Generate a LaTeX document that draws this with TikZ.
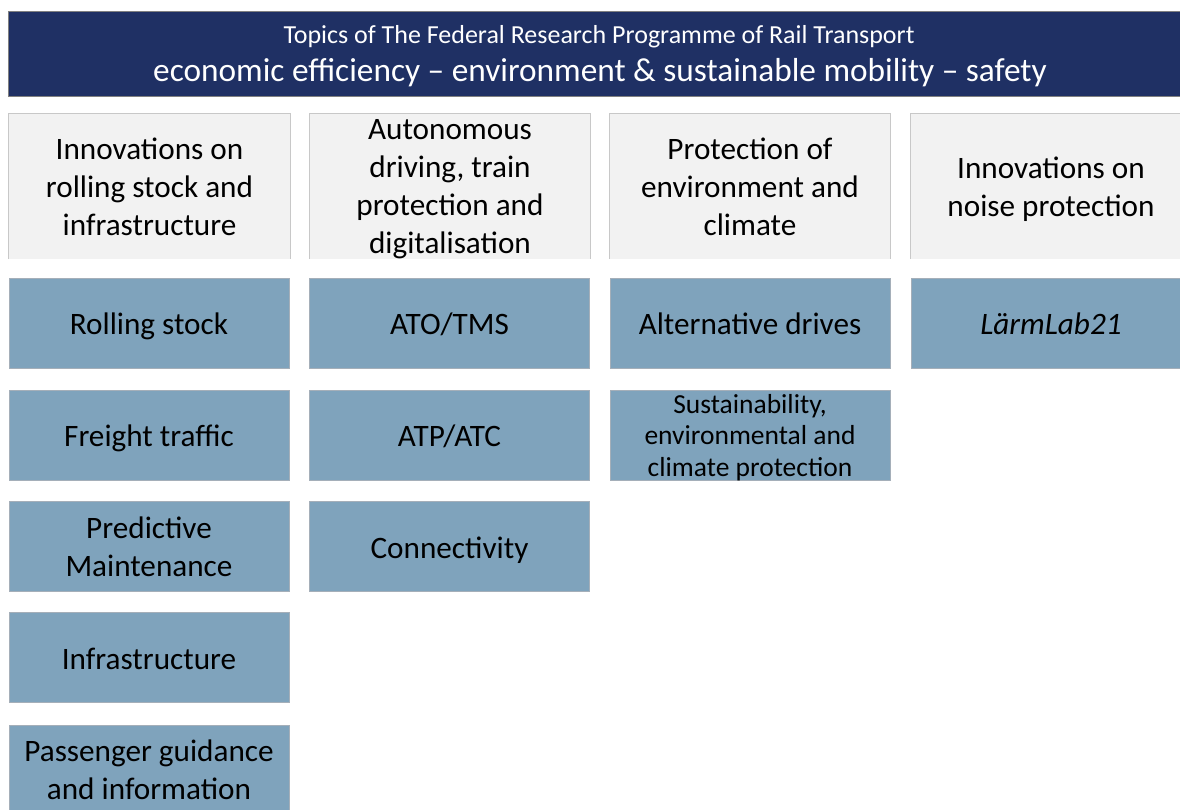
\documentclass[tikz,border=0pt]{standalone}
\usepackage{fontspec}
\setmainfont{Carlito}
\definecolor{navy}{RGB}{31,48,100}
\definecolor{topicgray}{RGB}{242,242,242}
\definecolor{topicline}{RGB}{200,200,200}
\definecolor{itemblue}{RGB}{127,163,188}
\definecolor{itemline}{RGB}{165,175,185}
\newcommand{\nodepth}[1]{\raisebox{0pt}[\height][0pt]{#1}}
\begin{document}
\begin{tikzpicture}[x=1pt,y=-1pt,
  hdr/.style={fill=navy,draw=gray,line width=0.8pt,minimum width=1182pt,minimum height=85pt,inner sep=0pt},
  hdrtxt/.style={text=white,inner sep=0pt,anchor=center},
  topic/.style={fill=topicgray,minimum width=281pt,minimum height=145pt,inner sep=0pt,align=center,
    font=\fontsize{31.2}{38}\selectfont},
  item/.style={fill=itemblue,draw=itemline,line width=0.8pt,minimum width=280pt,minimum height=90pt,inner sep=0pt,align=center,
    font=\fontsize{31.2}{38}\selectfont},
  oneline/.style={text height=29.5pt,text depth=6.5pt},
  topicedge/.style={draw=topicline,line width=0.8pt}
]
\useasboundingbox (0,0) rectangle (1180,809);
\clip (0,0) rectangle (1180,809);
\fill[white] (0,0) rectangle (1180,809);

% header
\node[hdr] (title) at (599,53.5) {};
\node[hdrtxt,font=\fontsize{26}{30}\selectfont] (title1) at (599,37) {Topics of The Federal Research Programme of Rail Transport};
\node[hdrtxt,font=\fontsize{33.3}{38}\selectfont] (title2) at (600,73) {economic efficiency -- environment \& sustainable mobility -- safety};

% topic boxes
\node[topic] (t1) at (149.5,186.5) {Innovations on\\rolling stock and\\infrastructure};
\node[topic] (t2) at (450,186.5) {Autonomous\\driving, train\\protection and\\\nodepth{digitalisation}};
\node[topic] (t3) at (750,186.5) {Protection of\\environment and\\climate};
\node[topic] (t4) at (1051,186.5) {Innovations on\\\nodepth{noise protection}};
\foreach \t in {t1,t2,t3,t4}{
  \draw[topicedge] (\t.south west) -- (\t.north west) -- (\t.north east) -- (\t.south east);
}

% column 1
\node[item,oneline] (r1) at (149,323) {Rolling stock};
\node[item,oneline] (f1) at (149,435) {Freight traffic};
\node[item] (p1) at (149,546.5) {Predictive\\Maintenance};
\node[item,oneline] (i1) at (149,657.5) {Infrastructure};
\node[item] (g1) at (149,770) {Passenger guidance\\and information};

% column 2
\node[item,oneline] (a2) at (449.5,323) {ATO/TMS};
\node[item,oneline] (b2) at (449.5,435) {ATP/ATC};
\node[item,oneline] (c2) at (449.5,546.5) {Connectivity};

% column 3
\node[item,oneline] (a3) at (750,323) {Alternative drives};
\node[item,font=\fontsize{27.5}{31.5}\selectfont] (b3) at (750,435) {Sustainability,\\environmental and\\\nodepth{climate protection}};

% column 4
\node[item,oneline] (a4) at (1051,323) {\itshape LärmLab21};
\end{tikzpicture}
\end{document}
